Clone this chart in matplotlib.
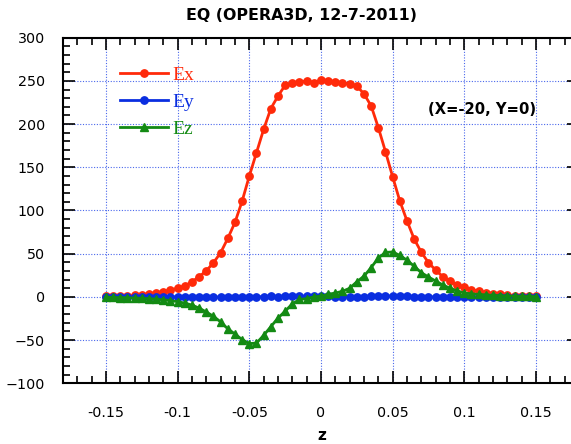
import numpy as np
import matplotlib
matplotlib.use("Agg")
import matplotlib.pyplot as plt
from matplotlib.ticker import MultipleLocator

# Field components along z at X=-20, Y=0
z = np.linspace(-0.15, 0.15, 61)

ex = [0.5, 0.7, 1.0, 1.3, 1.8, 2.4, 3.2, 4.3, 5.8, 7.8,
      10.0, 12.6, 17.6, 23.4, 30.3, 39.6, 51.2, 67.8, 86.3, 111.0,
      140.0, 167.0, 194.0, 218.0, 232.5, 245.0, 247.0, 248.7, 250.0, 248.0,
      251.0, 250.0, 249.0, 248.0, 246.4, 244.0, 235.0, 221.0, 196.0, 168.0,
      139.0, 111.0, 88.0, 67.0, 51.6, 39.6, 31.0, 23.4, 18.4, 13.8,
      11.0, 8.5, 6.5, 5.0, 3.8, 2.8, 2.0, 1.5, 1.1, 0.8, 0.6]

ey = [0.2, 0.1, 0.0, -0.1, 0.0, 0.1, 0.0, -0.2, 0.0, 0.1,
      0.0, -0.1, -0.2, 0.0, 0.2, 0.0, -0.3, -0.1, 0.1, 0.0,
      -0.2, 0.0, 0.3, 0.5, 0.4, 0.6, 1.0, 1.2, 0.8, 0.9,
      1.0, 0.6, 0.4, 0.2, 0.1, 0.0, 0.2, 0.5, 0.8, 1.0,
      1.2, 0.9, 0.6, 0.3, 0.1, -0.1, 0.0, 0.1, -0.1, 0.0,
      0.1, 0.0, -0.1, 0.0, 0.1, 0.0, 0.0, -0.1, 0.0, 0.1, 0.0]

ez = [-0.5, -0.6, -0.8, -1.0, -1.3, -1.6, -2.0, -2.6, -3.3, -4.3,
      -5.5, -7.2, -9.5, -13.0, -17.5, -22.5, -29.0, -37.0, -43.0, -49.5,
      -54.0, -53.5, -44.5, -34.5, -24.5, -16.5, -8.0, -3.0, -2.0, 0.0,
      1.0, 3.0, 4.5, 6.5, 10.0, 17.5, 24.0, 34.0, 45.0, 51.5,
      52.0, 48.0, 42.5, 35.5, 28.0, 23.0, 18.4, 13.8, 10.0, 7.0,
      4.5, 3.6, 2.9, 2.3, 1.8, 1.4, 1.1, 0.9, 0.7, 0.5, 0.4]

series = [("Ex", ex, "#ff2a0a", "o"),
          ("Ey", ey, "#0a2ee0", "o"),
          ("Ez", ez, "#138a13", "^")]

xticks = [-0.15, -0.1, -0.05, 0, 0.05, 0.1, 0.15]
xticklabels = ["-0.15", "-0.1", "-0.05", "0", "0.05", "0.1", "0.15"]
yticks = [-100, -50, 0, 50, 100, 150, 200, 250, 300]

W, H = 571, 444
fig = plt.figure(figsize=(W / 100, H / 100), dpi=100)
ax = fig.add_axes([63 / W, (H - 383.3) / H, (579 - 63) / W, (383.3 - 37.7) / H])

for name, vals, col, mk in series:
    ax.plot(z, vals, color=col, lw=2.0, marker=mk, ms=5.3 if mk == "o" else 6.0,
            mec=col, mfc=col, label=name)

ax.set_xlim(-0.18, 0.18)
ax.set_ylim(-100, 300)
ax.set_xticks(xticks)
ax.set_xticklabels(xticklabels)
ax.set_yticks(yticks)
ax.xaxis.set_minor_locator(MultipleLocator(0.01))
ax.yaxis.set_minor_locator(MultipleLocator(10))

ax.grid(True, which="major", color="#4a68ec", lw=0.8, ls=(0, (1, 1.5)))
ax.set_axisbelow(True)

for sp in ax.spines.values():
    sp.set_linewidth(1.5)
ax.tick_params(which="both", direction="in", top=True, right=True, width=1.2,
               colors="black")
ax.tick_params(which="major", length=8.6)
ax.tick_params(which="minor", length=4.7)
ax.tick_params(axis="x", which="major", pad=16, labelsize=10.3)
ax.tick_params(axis="y", which="major", pad=13, labelsize=10.3)

ax.set_xlabel("z", fontweight="bold", fontsize=11, va="center")
ax.xaxis.set_label_coords((321.7 - 63) / (579 - 63), (383.3 - 435) / (383.3 - 37.7))

fig.text(302 / W, 1 - 15.3 / H, "EQ (OPERA3D, 12-7-2011)", ha="center",
         va="center", fontsize=11.4, fontweight="bold")
fig.text(482.5 / W, 1 - 110 / H, "(X=-20, Y=0)", ha="center", va="center",
         fontsize=10.6, fontweight="bold")

leg = ax.legend(loc="upper left", bbox_to_anchor=(120 / W, 1 - 66 / H),
                bbox_transform=fig.transFigure, frameon=False,
                prop={"family": "Liberation Serif", "size": 14},
                handlelength=2.47, handletextpad=0.25, labelspacing=0.48,
                borderpad=0, borderaxespad=0, labelcolor="linecolor",
                markerscale=1.0)

fig.savefig("out.png", dpi=100)
